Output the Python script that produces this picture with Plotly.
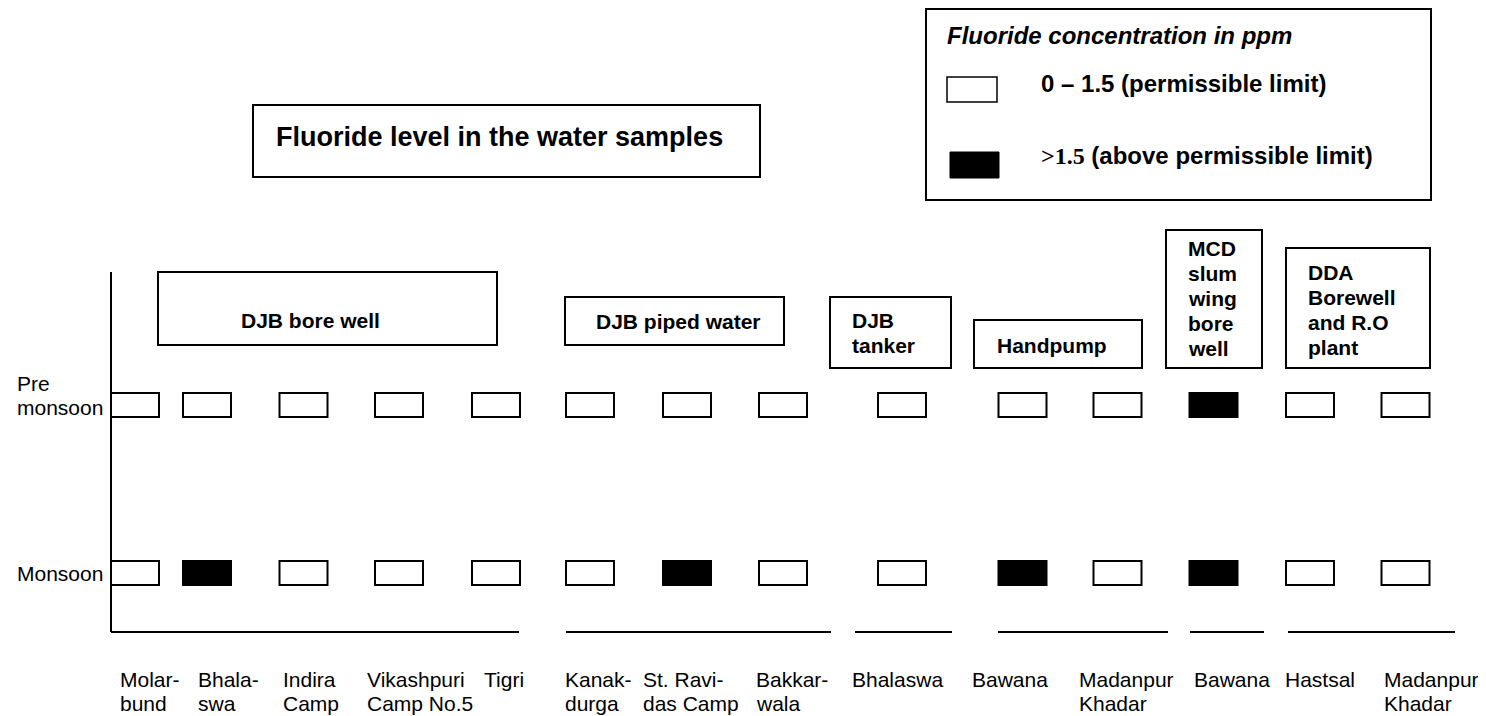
import plotly.graph_objects as go

# ---------------- data ----------------
sites = ["Molarbund", "Bhalaswa", "Indira Camp", "Vikashpuri Camp No.5", "Tigri",
         "Kanakdurga", "St. Ravidas Camp", "Bakkarwala", "Bhalaswa", "Bawana",
         "Madanpur Khadar", "Bawana", "Hastsal", "Madanpur Khadar"]
label_line1 = ["Molar-", "Bhala-", "Indira", "Vikashpuri", "Tigri", "Kanak-", "St. Ravi-",
               "Bakkar-", "Bhalaswa", "Bawana", "Madanpur", "Bawana", "Hastsal", "Madanpur"]
label_line2 = ["bund", "swa", "Camp", "Camp No.5", "", "durga", "das Camp",
               "wala", "", "", "Khadar", "", "", "Khadar"]
source_groups = ["DJB bore well", "DJB piped water", "DJB tanker", "Handpump",
                 "MCD slum wing bore well", "DDA Borewell and R.O plant"]
group_label_lines = [["DJB bore well"], ["DJB piped water"], ["DJB", "tanker"], ["Handpump"],
                     ["MCD", "slum", "wing", "bore", "well"], ["DDA", "Borewell", "and R.O", "plant"]]
seasons = ["Pre monsoon", "Monsoon"]
pre_monsoon_above_limit = [0, 0, 0, 0, 0, 0, 0, 0, 0, 0, 0, 1, 0, 0]
monsoon_above_limit = [0, 1, 0, 0, 0, 0, 1, 0, 0, 1, 0, 1, 0, 0]
legend_title = "Fluoride concentration in ppm"
legend_items = ["0 \u2013 1.5 (permissible limit)", ">1.5 (above permissible limit)"]
chart_title = "Fluoride level in the water samples"

# ---------------- layout constants (page-pixel positions) ----------------
PAGE_W, PAGE_H = 1486, 716
BODY_MARGIN = 8  # default page margin around the plot div
FONT = "Liberation Sans, Arial, sans-serif"
SLOT_X = [135, 207, 303.5, 399, 496, 590, 687, 783, 902, 1022.5, 1117.5, 1213.5, 1310, 1405.5]
BOX_W, BOX_H = 48, 24
ROW_TOP = [393, 561]
LABEL_X = [118, 196, 281, 365, 482, 563, 641, 754, 850, 970, 1077, 1192, 1283, 1382]
LABEL_Y = [679, 703]
AXIS_X, AXIS_TOP, BASE_Y = 111, 272, 632
BASE_SEGMENTS = [(111, 519), (566, 831), (855, 952), (998, 1168), (1190, 1264), (1288, 1455)]
GROUP_BOX = [(158, 497, 272, 345), (565, 784, 297, 345), (830, 951, 297, 368),
             (974, 1142, 320, 368), (1166, 1262, 230, 368), (1286, 1430, 248, 368)]
GROUP_TEXT_X = [239, 594, 850, 995, 1186, 1306]
GROUP_TEXT_Y = [[320], [321], [320, 345], [345], [248, 273, 298, 323, 348], [272, 297, 322, 347]]
ROW_LABELS = [[("Pre", 383), ("monsoon", 407)], [("Monsoon", 573)]]

fig = go.Figure()

for s, (season, vals) in enumerate(zip(seasons, [pre_monsoon_above_limit, monsoon_above_limit])):
    fig.add_trace(go.Bar(
        x=SLOT_X, y=[BOX_H] * len(vals), base=[ROW_TOP[s]] * len(vals), width=BOX_W,
        marker=dict(color=["black" if v else "white" for v in vals],
                    line=dict(color="black", width=2)),
        hovertext=[f"{season}: {site}" for site in sites], hoverinfo="text",
        name=season, showlegend=False))

shapes = []
annotations = []

def text(x, y, t, size, bold=False, italic=False):
    annotations.append(dict(x=x, y=y, xref="x", yref="y", text=t, showarrow=False,
                            xanchor="left", yanchor="middle", align="left",
                            font=dict(family=FONT, size=size, color="black",
                                      weight="bold" if bold else "normal",
                                      style="italic" if italic else "normal")))

def rect(x0, y0, x1, y1, fill="rgba(0,0,0,0)", lw=2):
    shapes.append(dict(type="rect", xref="x", yref="y", x0=x0, x1=x1, y0=y0, y1=y1,
                       line=dict(color="black", width=lw), fillcolor=fill, layer="above"))

def line(x0, y0, x1, y1, lw=2):
    shapes.append(dict(type="line", xref="x", yref="y", x0=x0, x1=x1, y0=y0, y1=y1,
                       line=dict(color="black", width=lw)))

# axis lines
line(AXIS_X, AXIS_TOP, AXIS_X, BASE_Y)
for x0, x1 in BASE_SEGMENTS:
    line(x0, BASE_Y, x1, BASE_Y)

# site labels
for i in range(len(sites)):
    text(LABEL_X[i], LABEL_Y[0], label_line1[i], 21)
    if label_line2[i]:
        text(LABEL_X[i], LABEL_Y[1], label_line2[i], 21)

# row labels
for rows in ROW_LABELS:
    for t, y in rows:
        text(15, y, t, 21)

# source group boxes
for g, (x0, x1, y0, y1) in enumerate(GROUP_BOX):
    rect(x0, y0, x1, y1)
    for t, y in zip(group_label_lines[g], GROUP_TEXT_Y[g]):
        text(GROUP_TEXT_X[g], y, t, 21, bold=True)

# title box
rect(253, 105, 760, 177)
text(274, 137, chart_title, 27, bold=True)

# legend box
rect(926, 9, 1431, 200)
text(945, 35, legend_title, 24, bold=True, italic=True)
rect(947, 77, 997, 102, fill="white", lw=1.5)
rect(950, 152, 999, 178, fill="black", lw=1)
text(1039, 83, legend_items[0], 24, bold=True)
text(1039, 155, '<span style="font-family:Liberation Serif, Times New Roman, serif">&gt;1.5</span>'
     + legend_items[1][4:], 24, bold=True)

fig.update_layout(
    width=PAGE_W - BODY_MARGIN, height=PAGE_H - BODY_MARGIN,
    margin=dict(l=0, r=0, t=0, b=0, pad=0),
    paper_bgcolor="white", plot_bgcolor="white",
    xaxis=dict(range=[BODY_MARGIN, PAGE_W], visible=False, fixedrange=True),
    yaxis=dict(range=[PAGE_H, BODY_MARGIN], visible=False, fixedrange=True),
    barmode="overlay", shapes=shapes, annotations=annotations, showlegend=False)

fig.write_html("out.html")
